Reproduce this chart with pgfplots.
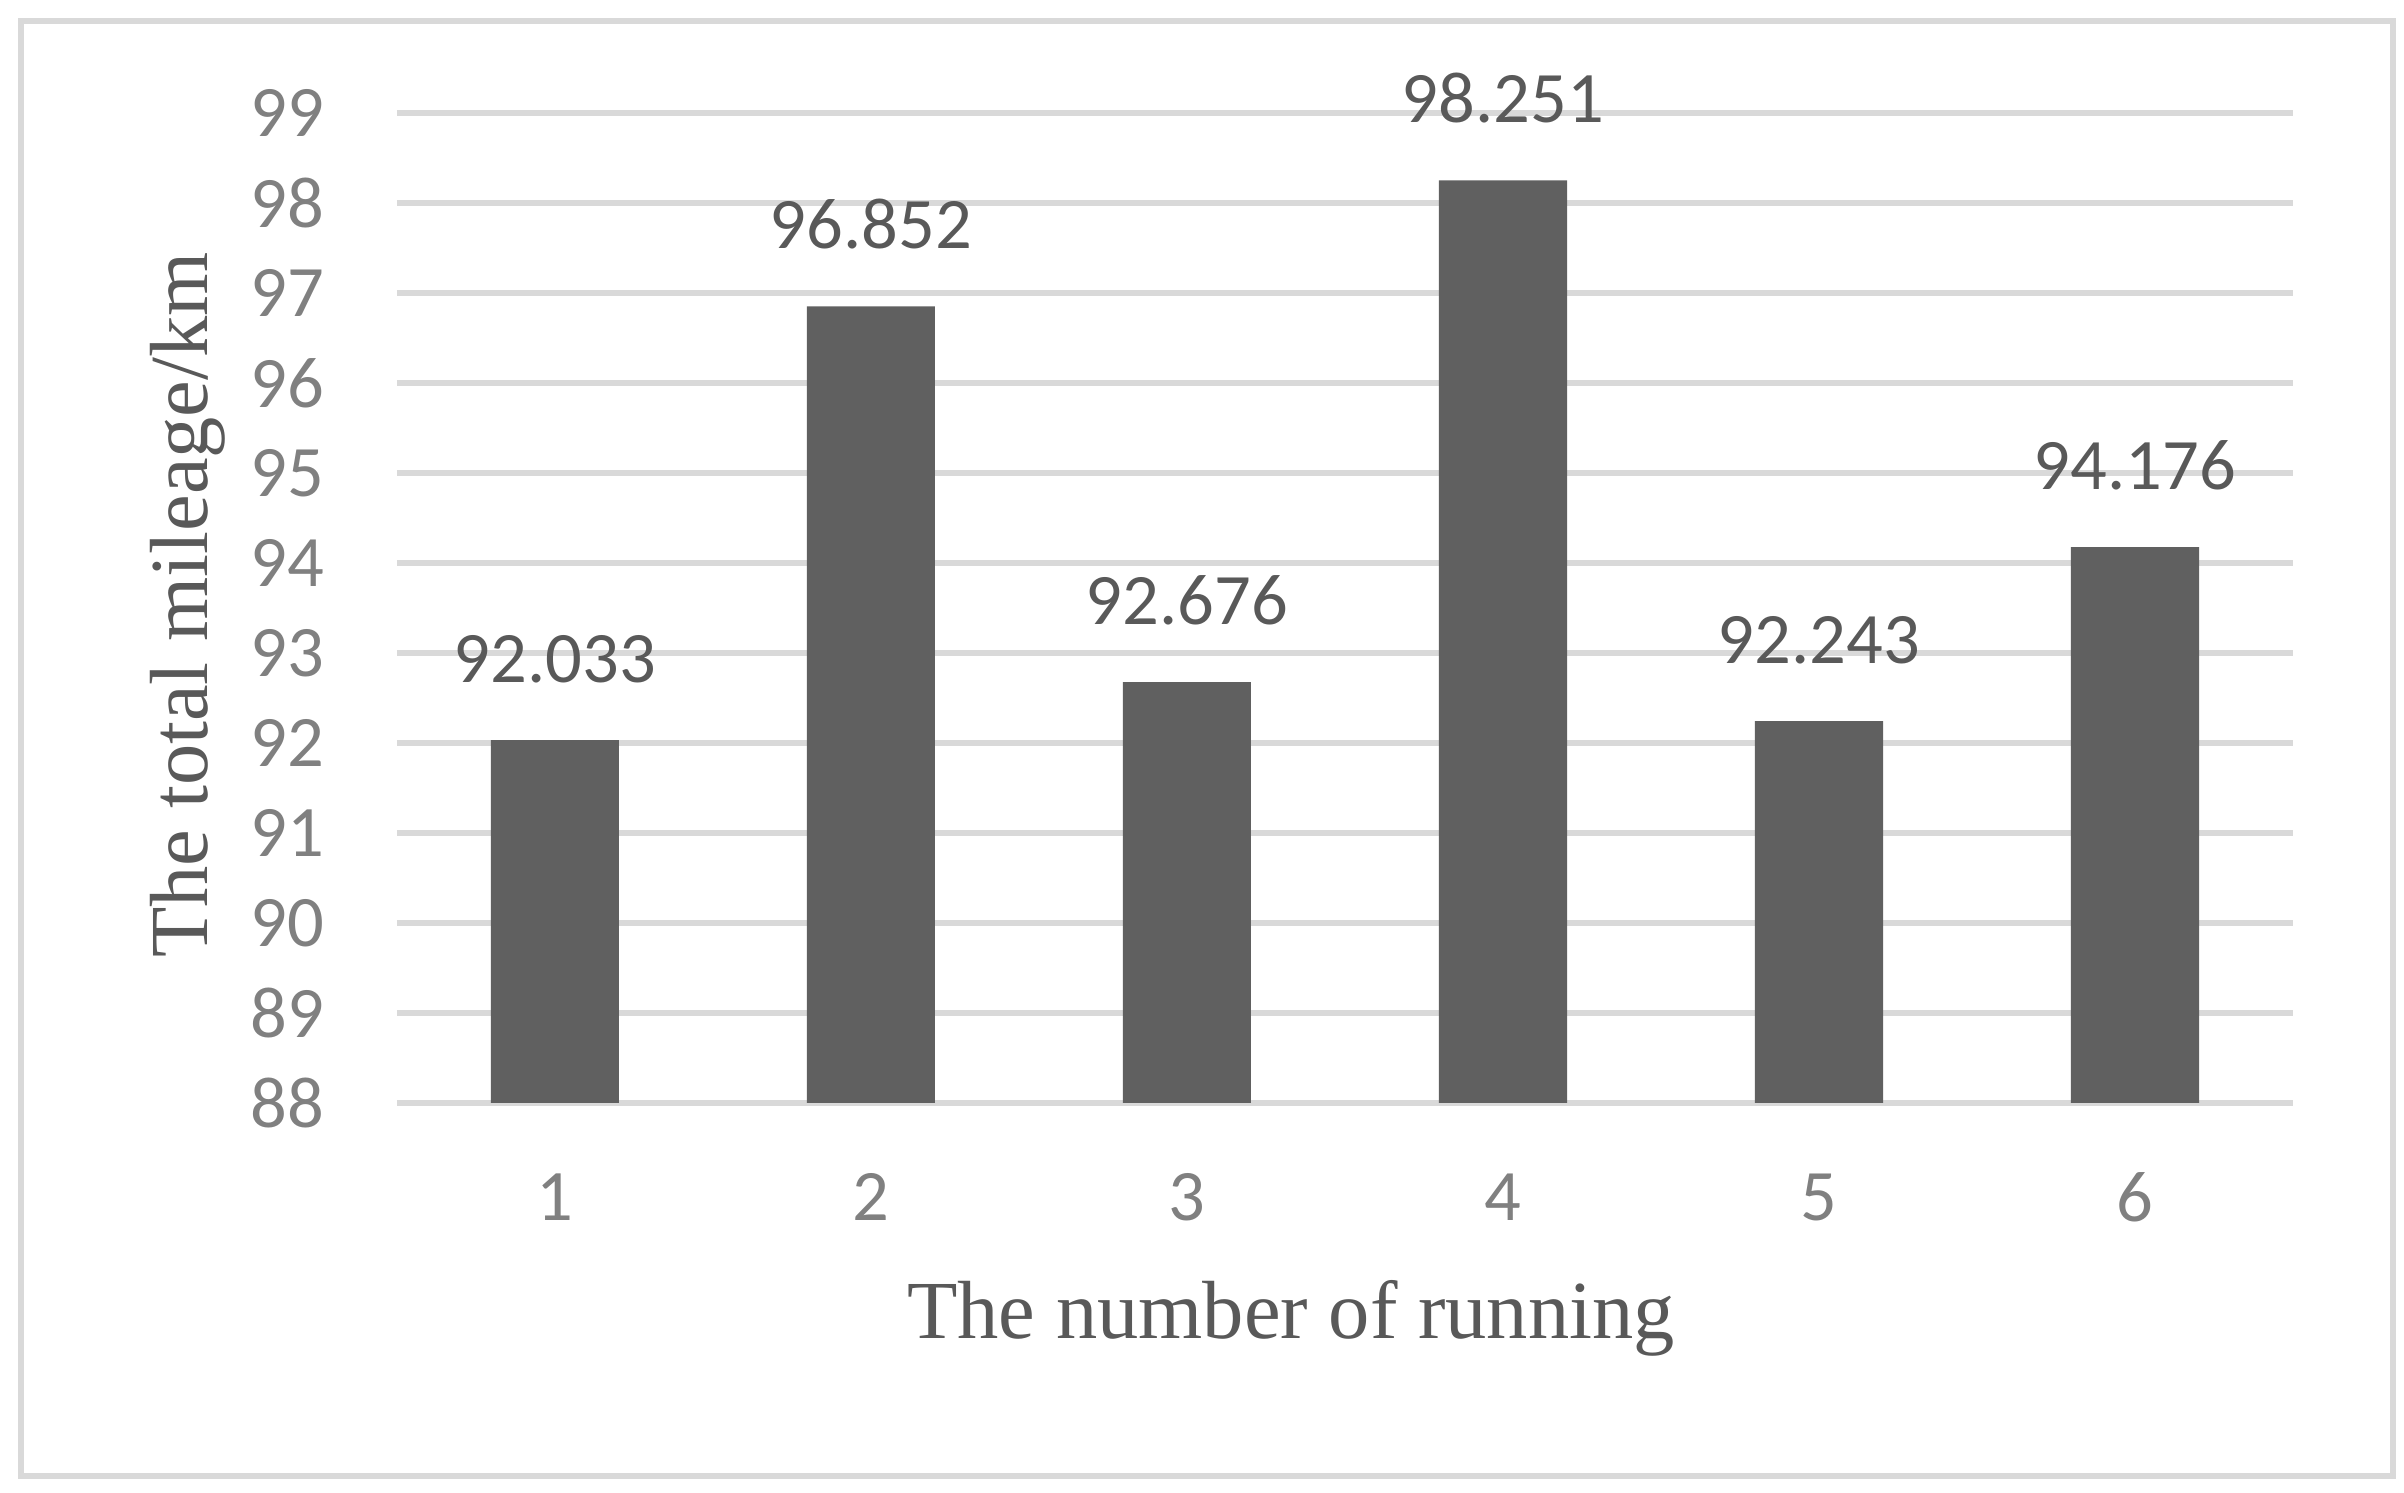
\documentclass[border=0pt]{standalone}
\usepackage{pgfplots}
\pgfplotsset{compat=1.18}
\usepackage{fontspec}
\setmainfont{Carlito}
\newfontfamily\titlefont{Liberation Serif}
\definecolor{bargray}{HTML}{606060}
\definecolor{gridgray}{HTML}{D9D9D9}
\definecolor{ticktext}{HTML}{808080}
\definecolor{labeltext}{HTML}{595959}
\begin{document}
\begin{tikzpicture}
\path (-79.4pt,-78pt) rectangle (401.4pt,220.6pt);
\draw[gridgray, line width=1.3pt] (-75.2pt,-74.6pt) rectangle (399.2pt,216.4pt);
\begin{axis}[
  at={(0,0)}, anchor=south west,
  scale only axis,
  width=379.2pt, height=198pt,
  xmin=0.5, xmax=6.5,
  ymin=88, ymax=99,
  xtick={1,2,3,4,5,6},
  xticklabels={1,2,3,4,5,6},
  ytick={88,89,...,99},
  /pgf/number format/assume math mode=true,
  major tick length=0pt,
  axis line style={draw=none},
  ymajorgrids,
  grid style={line width=1.25pt, gridgray},
  tick label style={font=\fontsize{14.5}{17}\selectfont, text=ticktext, inner sep=0pt},
  yticklabel style={anchor=east, xshift=-14.4pt},
  xticklabel style={anchor=center, yshift=-18.8pt},
  xlabel={The number of running},
  ylabel={The total mileage/km},
  xlabel style={at={(axis description cs:0.4715,-0.2374)}, anchor=base, font=\titlefont\fontsize{16.5}{19}\selectfont, text=labeltext},
  ylabel style={at={(axis description cs:-0.1002,0.503)}, anchor=base, rotate=0, font=\titlefont\fontsize{16.5}{19}\selectfont, text=labeltext},
  ybar, bar width=25.6pt,
  nodes near coords,
  point meta=explicit symbolic,
  every node near coord/.append style={anchor=base, yshift=11.6pt, inner sep=0pt, font=\fontsize{14.5}{17}\selectfont, text=labeltext},
]
\addplot[fill=bargray, draw=none] coordinates {
  (1,92.033) [92.033]
  (2,96.852) [96.852]
  (3,92.676) [92.676]
  (4,98.251) [98.251]
  (5,92.243) [92.243]
  (6,94.176) [94.176]
};
\end{axis}
\end{tikzpicture}
\end{document}
